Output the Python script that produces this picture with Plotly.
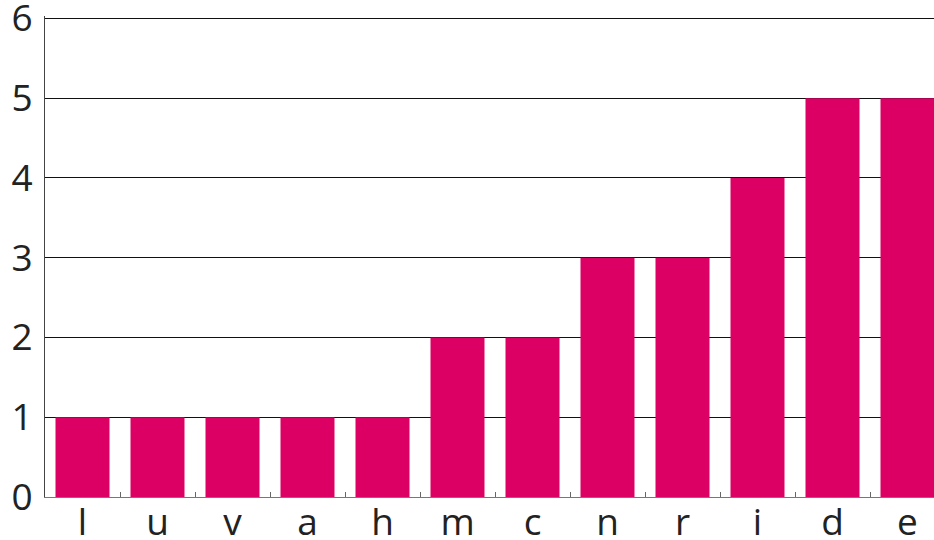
import plotly.graph_objects as go

categories = ["l", "u", "v", "a", "h", "m", "c", "n", "r", "i", "d", "e"]
values = [1, 1, 1, 1, 1, 2, 2, 3, 3, 4, 5, 5]
y_ticks = [0, 1, 2, 3, 4, 5, 6]

fig = go.Figure(go.Bar(x=categories, y=values, marker=dict(color="#DC0064", line=dict(width=0))))

fig.update_layout(
    width=945, height=540,
    margin=dict(l=45, r=0, t=16, b=43),
    paper_bgcolor="white", plot_bgcolor="white",
    bargap=0.28,
    showlegend=False,
    font=dict(family="Open Sans", size=37, color="#222"),
)
fig.update_xaxes(
    type="category", tickson="boundaries", ticks="inside", ticklen=5, tickwidth=1,
    tickcolor="#666", showline=True, linecolor="#777", linewidth=1,
    showgrid=False, tickfont=dict(size=37, color="#222"), automargin=False,
    ticklabelstandoff=-7,
)
fig.update_yaxes(
    range=[0, 6.03], tickvals=y_ticks, showgrid=True, gridcolor="#111", gridwidth=1,
    showline=True, linecolor="#444", linewidth=1, ticks="", zeroline=False,
    tickfont=dict(size=37, color="#222"), ticklabelstandoff=4, automargin=False,
    ticklabeloverflow="allow",
)
fig.write_html("out.html", config={"displayModeBar": False})

with open("out.html", "r", encoding="utf-8") as f:
    html = f.read()
html = html.replace("<head>", "<head><style>html,body{margin:0;padding:0;overflow:hidden;}</style>", 1)
with open("out.html", "w", encoding="utf-8") as f:
    f.write(html)
